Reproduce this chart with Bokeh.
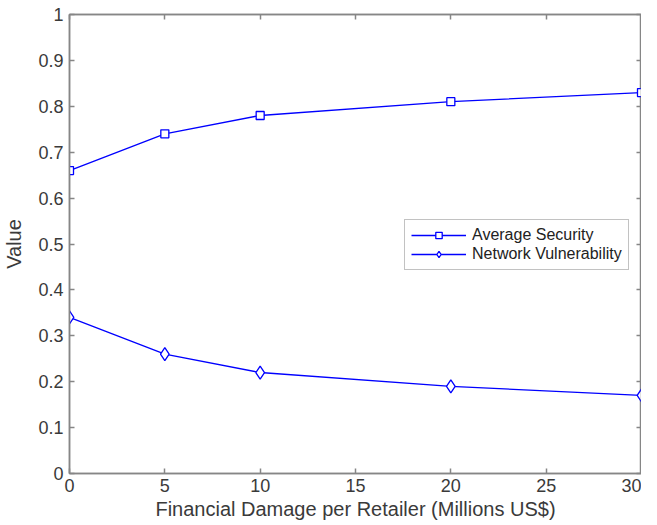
from bokeh.plotting import figure
from bokeh.models import LinearAxis, Range1d, CustomJSTickFormatter, FixedTicker, Legend, LegendItem
from bokeh.embed import file_html
from bokeh.resources import INLINE

damage = [0, 5, 10, 20, 30]
avg_security = [0.66, 0.74, 0.78, 0.81, 0.83]
net_vuln = [0.34, 0.26, 0.22, 0.19, 0.17]
x_ticks = [0, 5, 10, 15, 20, 25, 30]
y_ticks = [0, 0.1, 0.2, 0.3, 0.4, 0.5, 0.6, 0.7, 0.8, 0.9, 1.0]

FONT = "Liberation Sans"
AXC = "#868686"
TXC = "#3a3a3a"
BLUE = "#0000ff"

p = figure(width=641, height=524, output_backend="svg", toolbar_location=None,
           x_range=Range1d(0, 30), y_range=Range1d(0, 1),
           min_border_left=59, min_border_right=0, min_border_top=14, min_border_bottom=51)
p.xgrid.visible = False
p.ygrid.visible = False
p.outline_line_color = AXC
p.outline_line_width = 1.5
p.background_fill_color = "white"
p.border_fill_color = "white"

fmt = CustomJSTickFormatter(code="return String(Math.round(tick*10)/10);")
blank = CustomJSTickFormatter(code="return '';")

def style(ax, labels=True):
    ax.axis_line_color = AXC
    ax.axis_line_width = 1.5
    ax.major_tick_line_color = AXC
    ax.major_tick_line_width = 1.5
    ax.major_tick_in = 5
    ax.major_tick_out = 0
    ax.minor_tick_line_color = None
    ax.major_label_text_font = FONT
    ax.major_label_text_font_size = "18px"
    ax.major_label_text_color = TXC
    ax.axis_label_text_font = FONT
    ax.axis_label_text_font_size = "20px"
    ax.axis_label_text_font_style = "normal"
    ax.axis_label_text_color = TXC
    if not labels:
        ax.formatter = blank
        ax.major_label_text_font_size = "0px"
        ax.major_label_text_alpha = 0
        ax.major_label_standoff = 0
        ax.axis_label_standoff = 0

p.xaxis.ticker = FixedTicker(ticks=x_ticks)
p.yaxis.ticker = FixedTicker(ticks=y_ticks)
p.yaxis.formatter = fmt
p.xaxis.axis_label = "Financial Damage per Retailer (Millions US$)"
p.yaxis.axis_label = "Value"
style(p.xaxis[0])
style(p.yaxis[0])
p.xaxis.major_label_standoff = 5
p.yaxis.major_label_standoff = 6
p.xaxis.axis_label_standoff = 3
p.yaxis.axis_label_standoff = 10

top = LinearAxis(ticker=FixedTicker(ticks=x_ticks))
style(top, labels=False)
p.add_layout(top, "above")
right = LinearAxis(ticker=FixedTicker(ticks=y_ticks))
style(right, labels=False)
p.add_layout(right, "right")

l1 = p.line(damage, avg_security, line_color=BLUE, line_width=1.3)
m1 = p.scatter(damage, avg_security, marker="square", size=8, line_color=BLUE,
               fill_color="white", line_width=1.3)
l2 = p.line(damage, net_vuln, line_color=BLUE, line_width=1.3)
m2 = p.scatter(damage, net_vuln, marker="diamond", size=13, line_color=BLUE,
               fill_color="white", line_width=1.3)

legend = Legend(items=[LegendItem(label="Average Security", renderers=[l1, m1]),
                       LegendItem(label="Network Vulnerability", renderers=[l2, m2])],
                location=(335, 203))
legend.glyph_width = 55
legend.glyph_height = 16
legend.label_height = 16
legend.spacing = 1
legend.padding = 6
legend.margin = 0
legend.label_standoff = 6
legend.label_text_font = FONT
legend.label_text_font_size = "16px"
legend.label_text_color = "#222222"
legend.border_line_color = AXC
legend.border_line_width = 1.5
legend.background_fill_color = "white"
p.add_layout(legend, "center")

open("out.html", "w").write(file_html(p, INLINE))
